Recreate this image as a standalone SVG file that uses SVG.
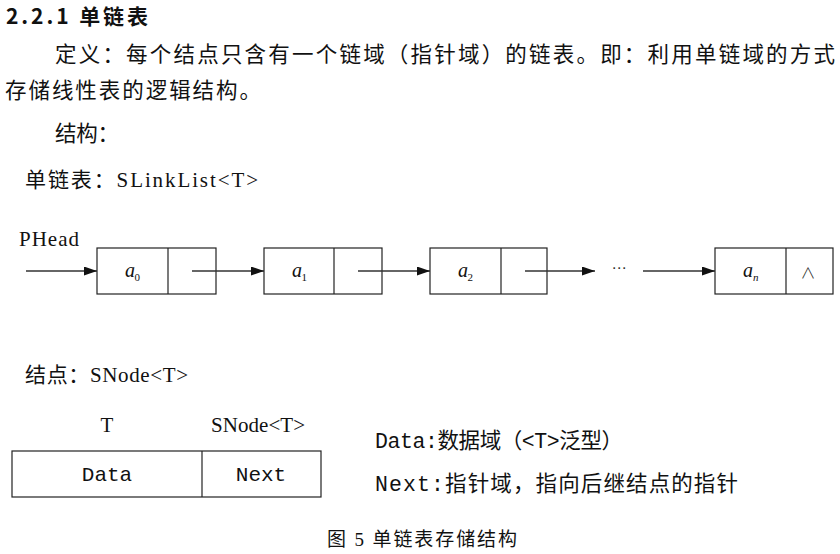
<svg xmlns="http://www.w3.org/2000/svg" width="840" height="554" viewBox="0 0 840 554">
<style>
.cn{font-family:"Liberation Serif","Noto Sans CJK SC",serif;fill:#111}
.sans{font-family:"Noto Sans CJK SC",sans-serif;fill:#111}
.mono{font-family:"Liberation Mono","Noto Sans CJK SC",monospace;fill:#111}
.box{fill:#fff;stroke:#222;stroke-width:1.2}
.div{stroke:#222;stroke-width:1.2}
.ital{font-family:"Liberation Serif",serif;font-style:italic;font-size:20px;fill:#111}
.sub{font-family:"Liberation Serif",serif;font-size:11px;fill:#111}
.edge{stroke:#333;stroke-width:1.3;fill:none;marker-end:url(#ah)}
</style>
<defs>
<marker id="ah" markerWidth="13" markerHeight="9" refX="13" refY="4.5" orient="auto" markerUnits="userSpaceOnUse">
<path d="M0,0 L13,4.5 L0,9 Z" fill="#111"/>
</marker>
</defs>
<rect width="840" height="554" fill="#fff"/>

<g id="text-block">
<text class="sans" x="6" y="24" font-size="21" font-weight="bold" textLength="142" lengthAdjust="spacing">2.2.1 单链表</text>
<text class="sans" x="55" y="62" font-size="21.5" textLength="780" lengthAdjust="spacing">定义：每个结点只含有一个链域（指针域）的链表。即：利用单链域的方式</text>
<text class="sans" x="5" y="98" font-size="21.5" textLength="256" lengthAdjust="spacing">存储线性表的逻辑结构。</text>
<text class="sans" x="55" y="141" font-size="21.5" textLength="64" lengthAdjust="spacing">结构：</text>
<text class="cn" x="25" y="187" font-size="21" textLength="233" lengthAdjust="spacing">单链表：SLinkList&lt;T&gt;</text>
<text class="cn" x="19" y="246" font-size="21" textLength="60" lengthAdjust="spacing">PHead</text>
</g>

<g id="node-a0">
<rect class="box" x="97" y="248" width="119" height="46"/>
<line class="div" x1="168" y1="248" x2="168" y2="294"/>
<text class="ital" x="125" y="277">a</text><text class="sub" x="134.5" y="281">0</text>
</g>
<g id="node-a1">
<rect class="box" x="264" y="248" width="118" height="46"/>
<line class="div" x1="334" y1="248" x2="334" y2="294"/>
<text class="ital" x="292" y="277">a</text><text class="sub" x="301.5" y="281">1</text>
</g>
<g id="node-a2">
<rect class="box" x="430" y="248" width="117" height="46"/>
<line class="div" x1="501" y1="248" x2="501" y2="294"/>
<text class="ital" x="458" y="277">a</text><text class="sub" x="467.5" y="281">2</text>
</g>
<g id="node-ellipsis">
<text x="619" y="273" font-family="DejaVu Sans,sans-serif" font-size="15" fill="#333" text-anchor="middle">⋯</text>
</g>
<g id="node-an">
<rect class="box" x="715" y="248" width="118" height="46"/>
<line class="div" x1="786" y1="248" x2="786" y2="294"/>
<text class="ital" x="743" y="277">a</text><text class="sub" x="753" y="281" font-style="italic">n</text>
<text x="808" y="278" font-family="Noto Sans CJK SC,sans-serif" font-weight="300" font-size="15" fill="#222" text-anchor="middle">∧</text>
</g>

<g id="connectors">
<line class="edge" x1="26" y1="271" x2="97" y2="271"/>
<line class="edge" x1="192" y1="271" x2="264" y2="271"/>
<line class="edge" x1="358" y1="271" x2="430" y2="271"/>
<line class="edge" x1="525" y1="271" x2="595" y2="271"/>
<line class="edge" x1="643" y1="271" x2="715" y2="271"/>
</g>

<g id="snode-title">
<text class="cn" x="25" y="382" font-size="21" textLength="163" lengthAdjust="spacing">结点：SNode&lt;T&gt;</text>
</g>
<g id="snode">
<text class="cn" x="107" y="432" font-size="21" text-anchor="middle">T</text>
<text class="cn" x="211" y="432" font-size="21" textLength="94" lengthAdjust="spacing">SNode&lt;T&gt;</text>
<rect class="box" x="12" y="451" width="309" height="46"/>
<line class="div" x1="202" y1="451" x2="202" y2="497"/>
<text class="mono" x="107" y="481" font-size="21" text-anchor="middle">Data</text>
<text class="mono" x="261" y="481" font-size="21" text-anchor="middle">Next</text>
</g>
<g id="legend">
<text class="mono" x="375" y="448" font-size="21.5" textLength="248" lengthAdjust="spacing">Data:数据域（&lt;T&gt;泛型）</text>
<text class="mono" x="375" y="491" font-size="21.5" textLength="363" lengthAdjust="spacing">Next:指针域，指向后继结点的指针</text>
</g>
<g id="caption">
<text class="cn" x="327" y="546" font-size="19" textLength="190" lengthAdjust="spacing">图 5 单链表存储结构</text>
</g>
</svg>
